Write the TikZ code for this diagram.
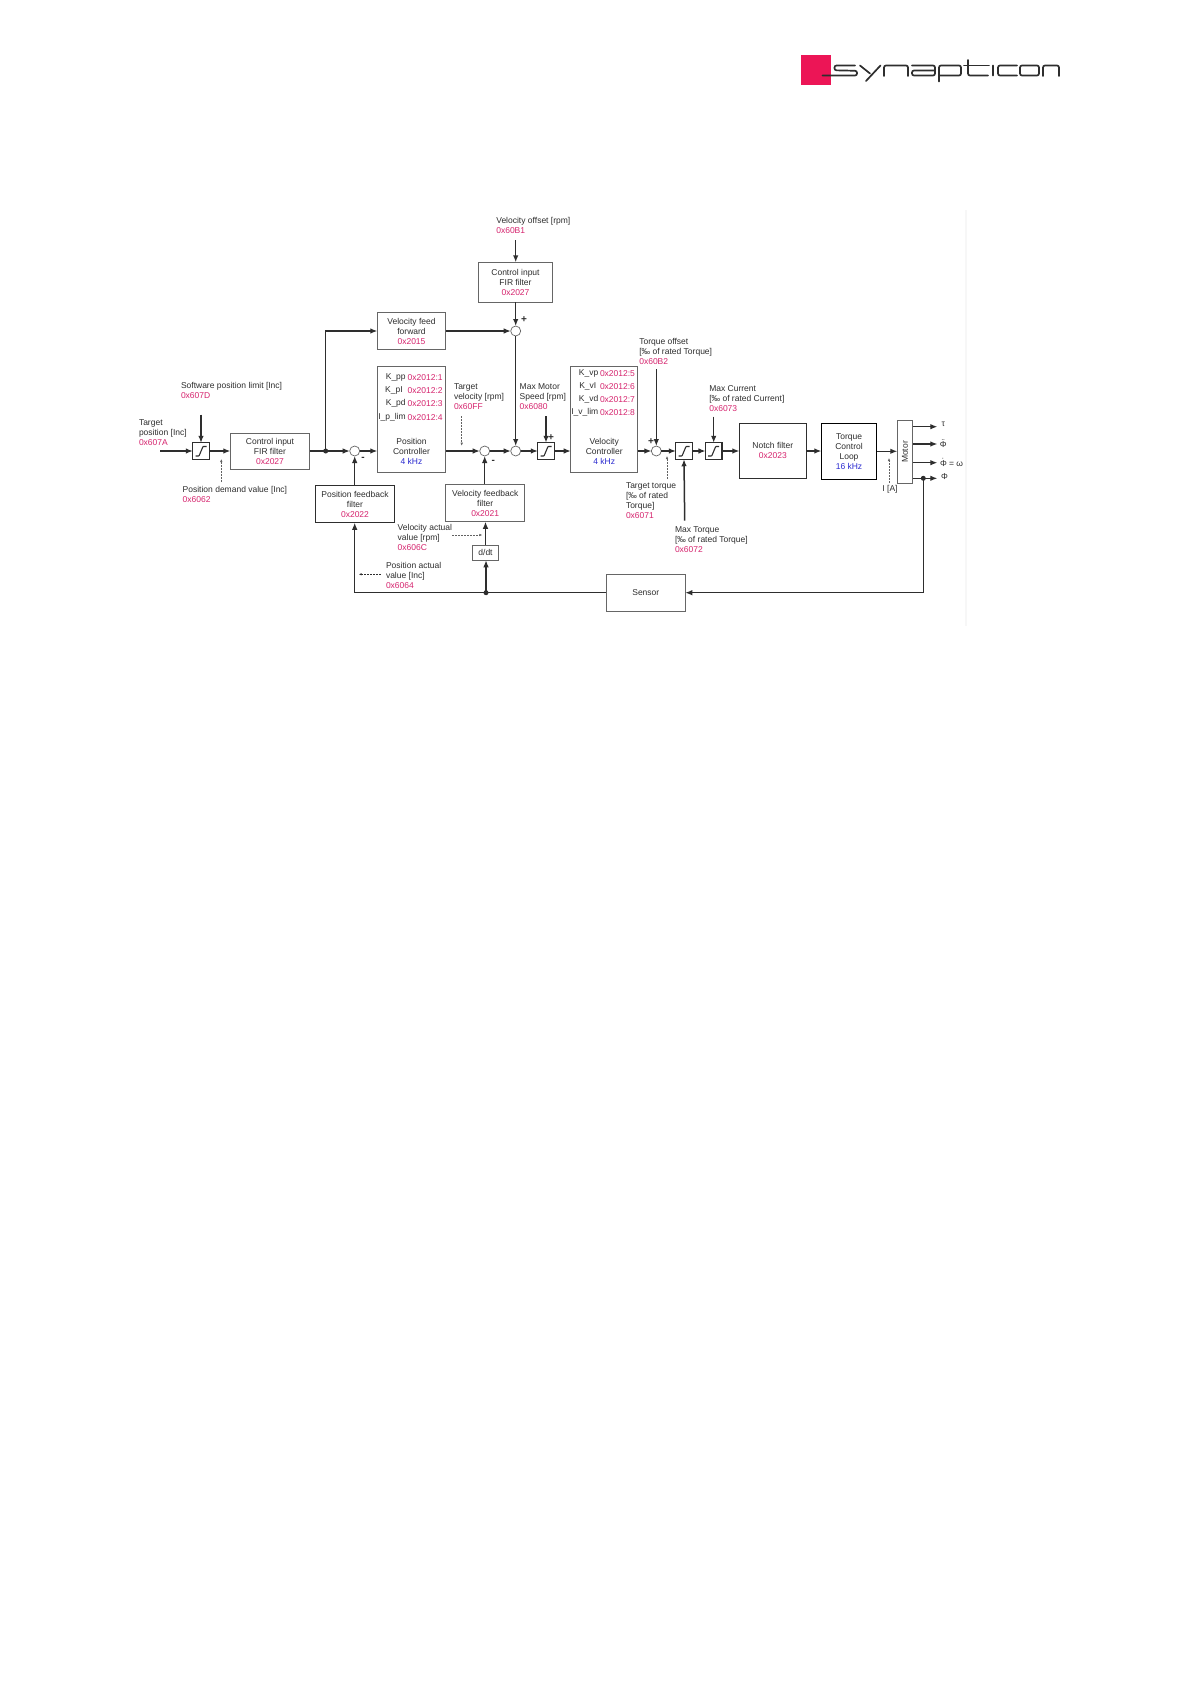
\documentclass[tikz,border=0pt]{standalone}
\usepackage{fontspec}
\setmainfont{Liberation Sans}
\usetikzlibrary{arrows.meta,calc}
\definecolor{ink}{HTML}{2E2E2E}
\definecolor{hexpink}{HTML}{D6246E}
\definecolor{freqblue}{HTML}{2A2AD0}
\definecolor{edge}{HTML}{666666}
\definecolor{logopink}{HTML}{EC1556}
\newcommand{\hx}[1]{\textcolor{hexpink}{#1}}
\newcommand{\kz}[1]{\textcolor{freqblue}{#1}}
\tikzset{
  txt/.style={font=\fontsize{8.5}{10}\selectfont, text=ink, inner sep=0pt, outer sep=0pt},
  signtxt/.style={font=\fontsize{10}{10}\selectfont\bfseries, text=ink, inner sep=0pt, outer sep=0pt},
  lab/.style={txt, align=left, anchor=north west},
  blk/.style={txt, draw=edge, line width=0.7pt, align=center, fill=white},
  blkd/.style={blk, draw=black, line width=0.9pt},
  sumnode/.style={circle, draw=edge, line width=0.7pt, fill=white, minimum size=10pt, inner sep=0pt, outer sep=0pt},
  satbox/.style={draw=ink, line width=1.2pt, minimum size=16.5pt, inner sep=0pt, outer sep=0pt, fill=white},
  satline/.style={draw=ink, line width=1.1pt, rounded corners=0.6pt},
  arr/.style={draw=ink, line width=1.15pt, -{Latex[length=7pt,width=5.5pt]}},
  heavy/.style={arr, line width=1.5pt},
  plain/.style={draw=ink, line width=1.15pt},
  dashar/.style={draw=ink!75, line width=0.45pt, dash pattern=on 1.6pt off 1.4pt, -{Latex[length=3pt,width=2.4pt]}},
  jdot/.style={circle, fill=ink, minimum size=5pt, inner sep=0pt, outer sep=0pt},
  logostroke/.style={draw=ink, line width=1.7pt, rounded corners=2pt, line cap=round},
}
\newcommand{\lbl}[4]{\node[lab] (#1) at (#2,#3-4) {\rule{0pt}{7pt}#4};}
\newcommand{\satb}[3]{\node[satbox] (#1) at (#2,#3) {};
  \draw[satline] ($(#1.center)+(-5.5,5)$) -- ++(3.5,0) -- ++(4,-9.5) -- ++(3.5,0);}
\newcommand{\krow}[6]{\node[txt,anchor=east] (#1k) at (#3,#5) {\rule{0pt}{7pt}#2};
  \node[txt,anchor=west] (#1h) at (#4,#5) {\rule{0pt}{7pt}\hx{#6}};}
\newcommand{\acc}[1]{\rlap{\makebox[6.6pt][c]{\raisebox{2pt}{#1}}}Φ}
\begin{document}
\begin{tikzpicture}[x=1pt,y=-1pt]
\useasboundingbox (0,0) rectangle (1190,1684);
\fill[white] (0,0) rectangle (1190,1684);
\fill[black!3] (964.5,210) rectangle (966.5,626);

% logo
\fill[logopink] (801,55) rectangle (831,85);
\draw[logostroke] (855,65.5) -- (834.5,65.5) -- (834.5,70.3) -- (857,70.8) -- (857,75.5) -- (822.5,75.5);
\draw[logostroke,rounded corners=0pt] (860,65.5) -- (870,73.5);
\draw[logostroke,rounded corners=0pt] (880.5,65.5) -- (866,81);
\draw[logostroke] (884,76) -- (884,65.5) -- (908,65.5) -- (908,76);
\draw[logostroke] (912,65.5) -- (935,65.5) -- (935,75.5) -- (912,75.5) -- (912,70.5) -- (935,70.5);
\draw[logostroke] (939,81.5) -- (939,65.5) -- (961,65.5) -- (961,75.5) -- (939,75.5);
\draw[logostroke] (968,60) -- (968,75.5) -- (988,75.5);
\draw[logostroke,rounded corners=0pt] (964,65.5) -- (989,65.5);
\draw[logostroke,rounded corners=0pt] (993,65.5) -- (993,75.5);
\draw[logostroke] (1017,65.5) -- (998,65.5) -- (998,75.5) -- (1017,75.5);
\draw[logostroke] (1020,65.5) -- (1039,65.5) -- (1039,75.5) -- (1020,75.5) -- cycle;
\draw[logostroke] (1043,76) -- (1043,65.5) -- (1059,65.5) -- (1059,76);

% blocks
\satb{sa}{201}{451}
\node[blk, minimum width=79.5pt, minimum height=36pt] (fira) at (270,451) {Control input\\FIR filter\\\hx{0x2027}};
\node[sumnode] (sa1) at (354.7,451) {};
\node[blk, minimum width=68.5pt, minimum height=106pt] (pc) at (411.5,419.3) {};
\node[blk, minimum width=68.5pt, minimum height=37pt] (vff) at (411.5,331) {Velocity feed\\forward\\\hx{0x2015}};
\node[blkd, draw=ink, minimum width=79.5pt, minimum height=37.5pt] (pff) at (355,504) {Position feedback\\filter\\\hx{0x2022}};
\node[blk, minimum width=74.5pt, minimum height=40pt] (firb) at (515.5,282.3) {Control input\\FIR filter\\\hx{0x2027}};
\node[sumnode] (sb1) at (515.7,331) {};
\node[sumnode] (sb2) at (484.7,451) {};
\node[sumnode] (sb3) at (515.7,451) {};
\satb{sb}{546}{451}
\node[blk, minimum width=79pt, minimum height=37.5pt] (vfb) at (485.2,503) {Velocity feedback\\filter\\\hx{0x2021}};
\node[blk, minimum width=25.5pt, minimum height=15pt] (ddt) at (485.5,552.8) {d/dt};
\node[blk, minimum width=67pt, minimum height=106pt] (vc) at (604.2,419.3) {};
\node[sumnode] (sc) at (656.3,451) {};
\satb{sd}{684}{451}
\satb{se}{713.7}{451}
\node[blkd, draw=ink, minimum width=67pt, minimum height=55pt] (notch) at (772.8,450.8) {Notch filter\\\hx{0x2023}};
\node[blkd, minimum width=55.5pt, minimum height=56pt] (tcl) at (849,451.3) {Torque\\Control\\Loop\\\kz{16 kHz}};
\node[blk, minimum width=15.5pt, minimum height=63.5pt] (motor) at (905,452) {\rotatebox{90}{Motor}};
\node[blk, minimum width=79pt, minimum height=37.5pt] (sensor) at (645.8,592.7) {Sensor};

% controller contents
\krow{a}{K\_pp}{405.7}{407.7}{377}{0x2012:1}
\krow{b}{K\_pI}{402.7}{407.7}{390}{0x2012:2}
\krow{c}{K\_pd}{405.7}{407.7}{402.7}{0x2012:3}
\krow{d}{I\_p\_lim}{405.7}{407.7}{416.7}{0x2012:4}
\node[txt,align=center] (pct) at (411.5,451.3) {Position\\Controller\\\kz{4 kHz}};
\krow{e}{K\_vp}{598.3}{600}{373}{0x2012:5}
\krow{f}{K\_vI}{596.3}{600}{385.7}{0x2012:6}
\krow{g}{K\_vd}{598.3}{600}{398.7}{0x2012:7}
\krow{h}{I\_v\_lim}{598.3}{600}{412.3}{0x2012:8}
\node[txt,align=center] (vct) at (604.2,451.3) {Velocity\\Controller\\\kz{4 kHz}};

% labels
\lbl{tpos}{139}{422.7}{Target\\position [Inc]\\\hx{0x607A}}
\lbl{spl}{181}{385.7}{Software position limit [Inc]\\\hx{0x607D}}
\lbl{pdv}{182.7}{489.7}{Position demand value [Inc]\\\hx{0x6062}}
\lbl{pav}{386}{565}{Position actual\\value [Inc]\\\hx{0x6064}}
\lbl{vav}{397.7}{527}{Velocity actual\\value [rpm]\\\hx{0x606C}}
\lbl{tv}{454}{386}{Target\\velocity [rpm]\\\hx{0x60FF}}
\lbl{mms}{519.7}{386}{Max Motor\\Speed [rpm]\\\hx{0x6080}}
\lbl{vo}{496.3}{220.7}{Velocity offset [rpm]\\\hx{0x60B1}}
\lbl{to}{639.3}{341}{Torque offset\\{[}‰ of rated Torque]\\\hx{0x60B2}}
\lbl{tt}{626}{485.7}{Target torque\\{[}‰ of rated\\Torque]\\\hx{0x6071}}
\lbl{mt}{675}{529.7}{Max Torque\\{[}‰ of rated Torque]\\\hx{0x6072}}
\lbl{mc}{709.3}{388}{Max Current\\{[}‰ of rated Current]\\\hx{0x6073}}
\node[txt] (ia) at (890,489.3) {I [A]};
\node[txt] (otau) at (943.3,424) {τ};
\node[txt] (oacc) at (943.3,443.5) {\acc{¨}};
\node[txt,anchor=west] (ovel) at (940,462.5) {\acc{˙} = ω};
\node[txt] (opos) at (944.5,477) {Φ};
\node[signtxt] (m1) at (363,459) {-};
\node[signtxt] (m2) at (493.3,462) {-};
\node[signtxt] (p1) at (524,319.7) {+};
\node[signtxt] (p2) at (551,437.7) {+};
\node[signtxt] (p3) at (651,441.3) {+};

% free ends
\coordinate (inp) at (160,451);
\coordinate (splend) at (201,414.7);
\coordinate (voend) at (515.7,240);
\coordinate (mmsend) at (546,416);
\coordinate (toend) at (656.3,369.3);
\coordinate (mtend) at (684.7,520.7);
\coordinate (mcend) at (713.7,416.7);
\coordinate (jb) at (325.7,451);
\coordinate (jc) at (486,592.7);
\coordinate (jd) at (923.3,478.3);
\coordinate (bl) at (354.7,592.7);
\coordinate (c1) at (937.3,426.7);
\coordinate (c2) at (937.3,444);
\coordinate (c3) at (937.3,462.7);
\coordinate (c4) at (937.3,478.3);

% connectors
\draw[arr] (inp) -- (sa.west);
\draw[arr] (splend) -- (sa.north);
\draw[arr] (sa.east) -- (fira.west);
\draw[plain] (fira.east) -- (jb);
\draw[arr] (jb) -- (sa1.west);
\draw[arr] (jb) |- (vff.west);
\draw[arr] (sa1.east) -- (pc.west |- sa1.east);
\draw[arr] (pff.north -| sa1) -- (sa1.south);
\draw[arr] (pc.east |- sb2.west) -- (sb2.west);
\draw[arr] (sb2.east) -- (sb3.west);
\draw[arr] (sb3.east) -- (sb.west);
\draw[arr] (sb.east) -- (vc.west |- sb.east);
\draw[arr] (vc.east |- sc.west) -- (sc.west);
\draw[arr] (sc.east) -- (sd.west);
\draw[arr] (sd.east) -- (se.west);
\draw[arr] (se.east) -- (notch.west |- se.east);
\draw[arr] (notch.east |- se.east) -- (tcl.west |- se.east);
\draw[arr] (tcl.east) -- (motor.west |- tcl.east);
\draw[heavy] (voend) -- (firb.north -| voend);
\draw[heavy] (firb.south -| sb1) -- (sb1.north);
\draw[arr] (vff.east |- sb1.west) -- (sb1.west);
\draw[heavy] (sb1.south) -- (sb3.north);
\draw[heavy] (mmsend) -- (sb.north);
\draw[arr] (vfb.north -| sb2) -- (sb2.south);
\draw[arr] (ddt.north) -- (ddt.north |- vfb.south);
\draw[arr] (jc) -- (jc |- ddt.south);
\draw[arr] (toend) -- (sc.north);
\draw[heavy] (mtend) -- (sd.south);
\draw[arr] (mcend) -- (se.north);
\draw[arr] (motor.east |- c1) -- (c1);
\draw[arr] (motor.east |- c2) -- (c2);
\draw[arr] (motor.east |- c3) -- (c3);
\draw[arr] (motor.east |- c4) -- (c4);
\draw[arr] (jd) |- (sensor.east);
\draw[plain] (sensor.west) -- (bl);
\draw[arr] (bl) -- (bl |- pff.south);
\node[jdot] (dotb) at (jb) {};
\node[jdot] (dotc) at (jc) {};
\node[jdot] (dotd) at (jd) {};

% value tap-offs
\coordinate (d1a) at (221.3,482); \coordinate (d1b) at (221.3,459);
\coordinate (d2a) at (380.7,574.3); \coordinate (d2b) at (358.7,574.3);
\coordinate (d3a) at (452,535); \coordinate (d3b) at (482.3,535);
\coordinate (d4a) at (461.7,416); \coordinate (d4b) at (461.7,445.7);
\coordinate (d5a) at (667,479); \coordinate (d5b) at (667,456);
\coordinate (d6a) at (889,482.7); \coordinate (d6b) at (889,458);
\draw[dashar] (d1a) -- (d1b);
\draw[dashar,draw=ink,line width=0.7pt] (d2a) -- (d2b);
\draw[dashar] (d3a) -- (d3b);
\draw[dashar] (d4a) -- (d4b);
\draw[dashar] (d5a) -- (d5b);
\draw[dashar] (d6a) -- (d6b);
\end{tikzpicture}
\end{document}
